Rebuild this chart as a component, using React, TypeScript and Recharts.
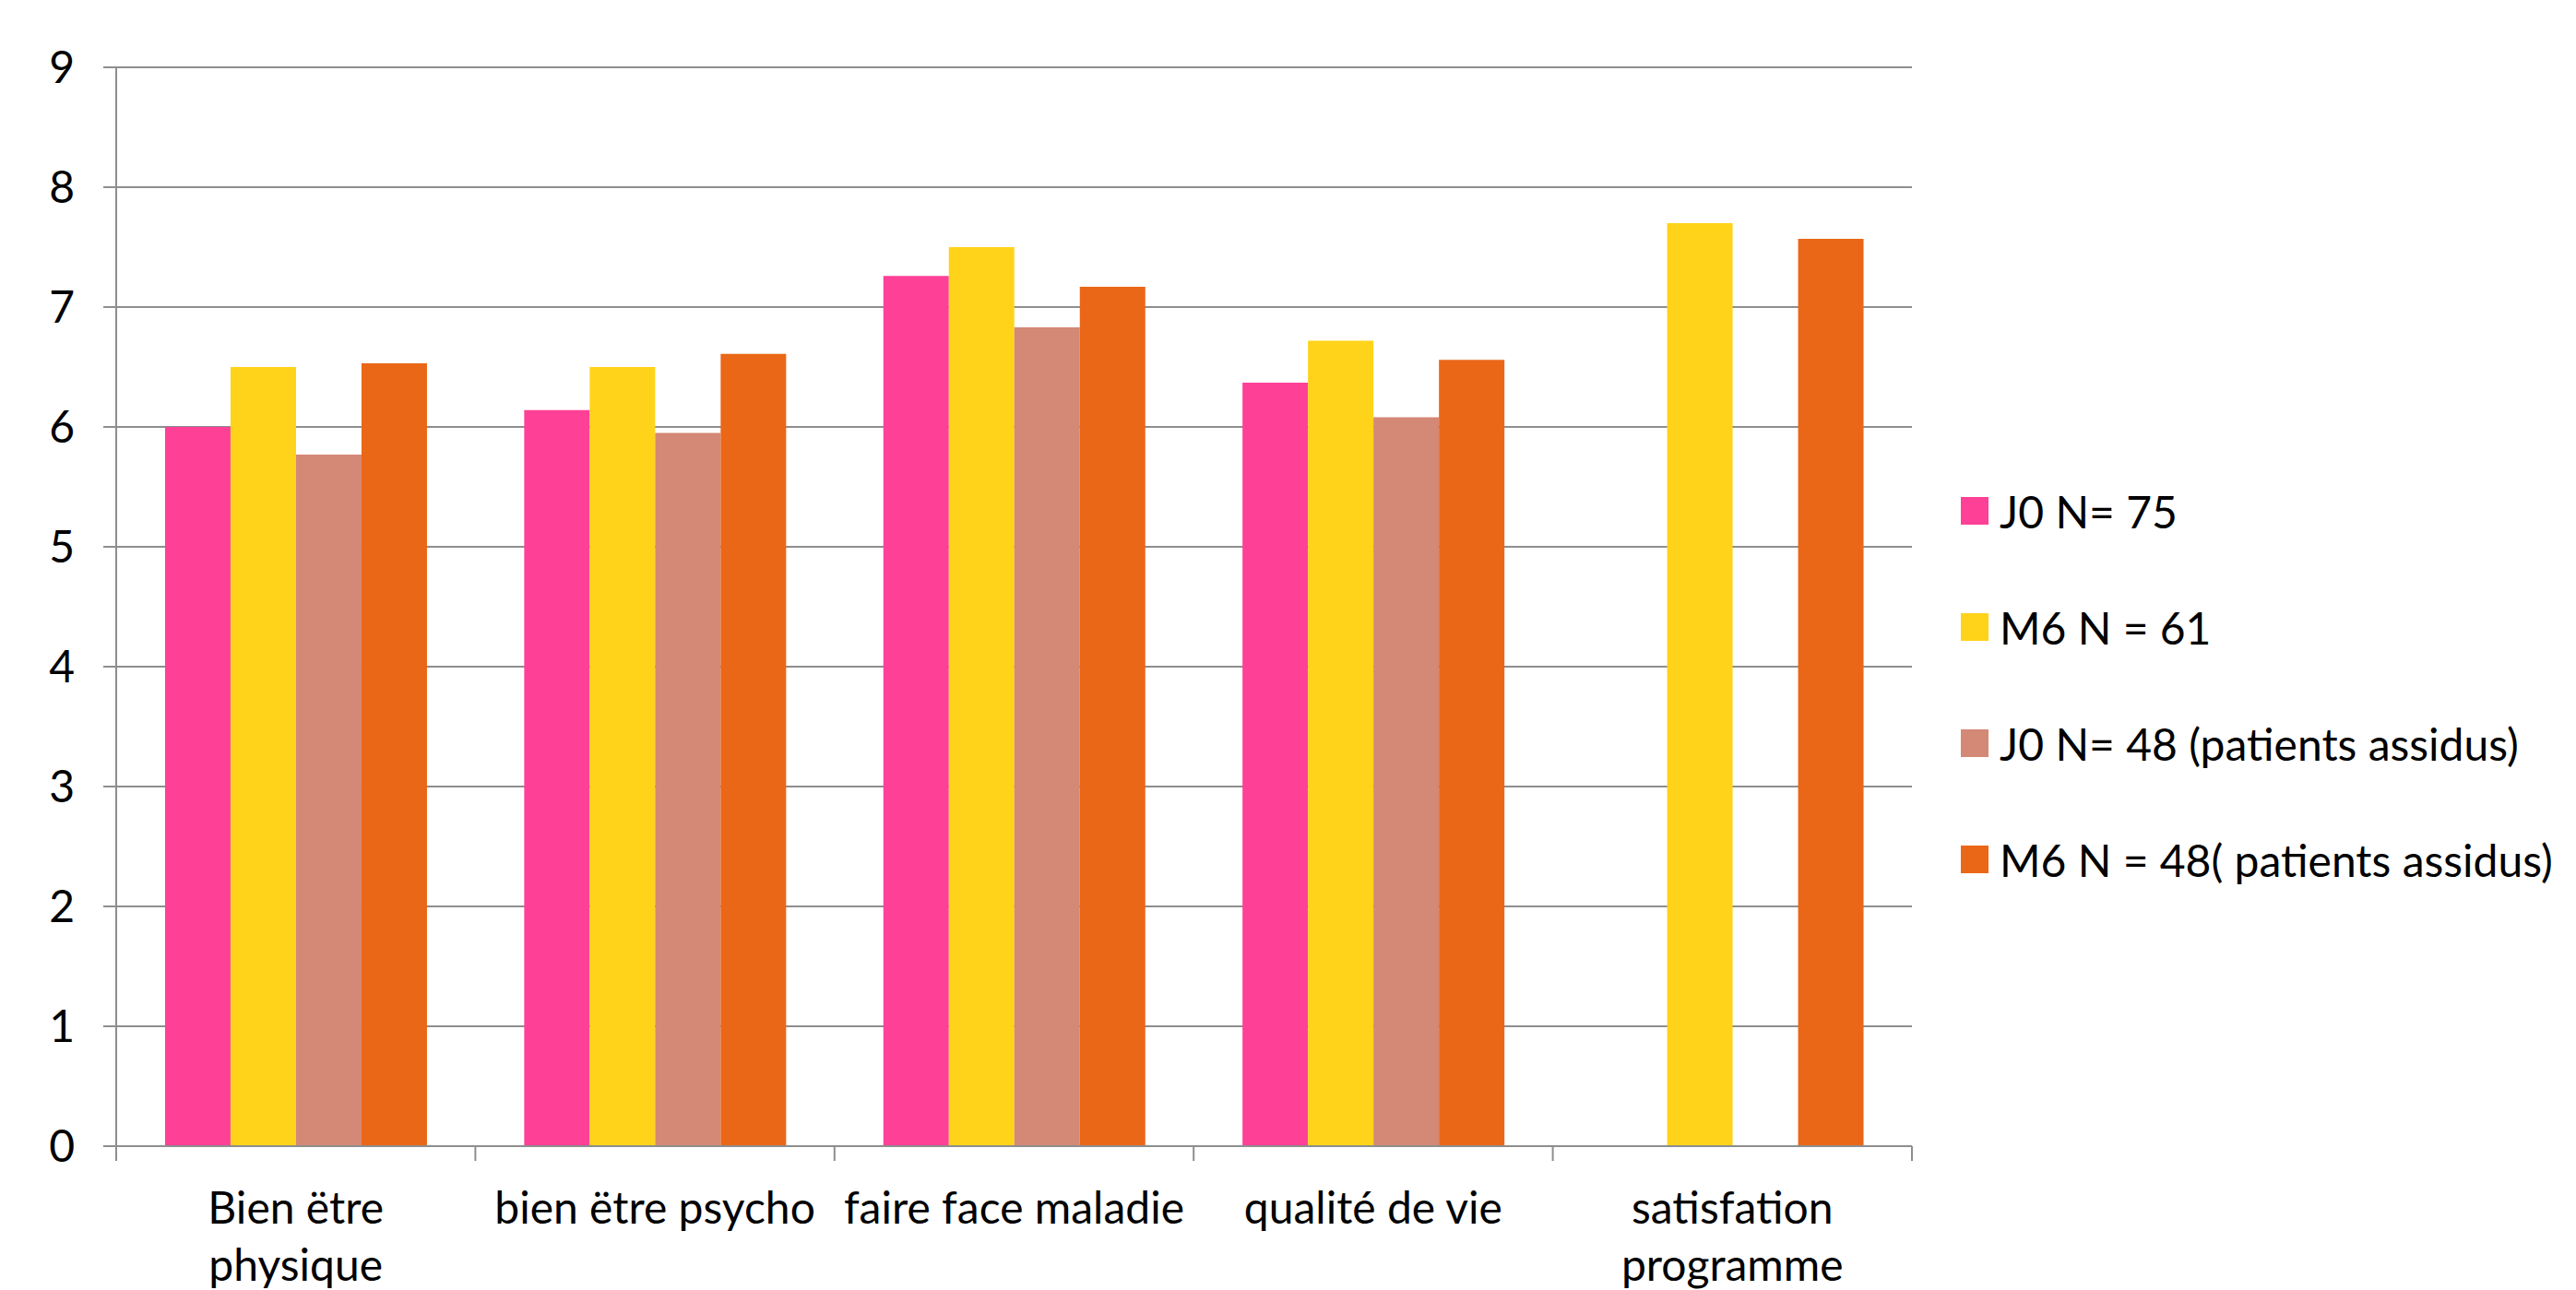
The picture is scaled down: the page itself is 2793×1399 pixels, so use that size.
import React from "react";
import { BarChart, Bar, XAxis, YAxis, CartesianGrid, Legend } from "recharts";

const categories = [
  "Bien ëtre physique",
  "bien ëtre psycho",
  "faire face maladie",
  "qualité de vie",
  "satisfation programme",
];
// how the category labels wrap under the axis
const categoryLines = [
  ["Bien ëtre", "physique"],
  ["bien ëtre psycho"],
  ["faire face maladie"],
  ["qualité de vie"],
  ["satisfation", "programme"],
];

const j0All = [6.0, 6.14, 7.26, 6.37, null];
const m6All = [6.5, 6.5, 7.5, 6.72, 7.7];
const j0Assidus = [5.77, 5.95, 6.83, 6.08, null];
const m6Assidus = [6.53, 6.61, 7.17, 6.56, 7.57];

const seriesNames = [
  "J0 N= 75",
  "M6 N = 61",
  "J0 N= 48 (patients assidus)",
  "M6 N = 48( patients assidus)",
];
const seriesColors = ["#ff4097", "#ffd319", "#d48876", "#ea6718"];

const yTicks = [0, 1, 2, 3, 4, 5, 6, 7, 8, 9];

const W = 2793;
const H = 1399;
const LEFT = 126;
const RIGHT = 720;
const FONT = "Lato, 'Open Sans', sans-serif";
const FS = 48;
const GRID = "#8e8e8e";

const data = categories.map((c, i) => ({
  name: c,
  j0All: j0All[i],
  m6All: m6All[i],
  j0Assidus: j0Assidus[i],
  m6Assidus: m6Assidus[i],
}));

const band = (W - LEFT - RIGHT) / categories.length;

function CategoryTick(props: any) {
  const { x, y, payload } = props;
  const idx = categories.indexOf(payload.value);
  const lines = categoryLines[idx] || [payload.value];
  const last = idx === categories.length - 1;
  return (
    <g>
      <line x1={x - band / 2} x2={x - band / 2} y1={y} y2={y + 16} stroke={GRID} strokeWidth={2} />
      {last && (
        <line x1={x + band / 2} x2={x + band / 2} y1={y} y2={y + 16} stroke={GRID} strokeWidth={2} />
      )}
      <text
        x={x}
        y={y + 84}
        textAnchor="middle"
        fontFamily={FONT}
        fontSize={FS}
        fill="#000"
      >
        {lines.map((l, i) => (
          <tspan key={i} x={x} dy={i === 0 ? 0 : 62}>
            {l}
          </tspan>
        ))}
      </text>
    </g>
  );
}

// legend drawn in series order (recharts would sort it by name)
function renderLegend() {
  return (
    <div style={{ fontFamily: FONT, fontSize: FS, color: "#000" }}>
      {seriesNames.map((name, i) => (
        <div key={i} style={{ display: "flex", alignItems: "center", height: 126, whiteSpace: "nowrap" }}>
          <span style={{ display: "inline-block", width: 30, height: 30, background: seriesColors[i], marginRight: 12 }} />
          <span>{name}</span>
        </div>
      ))}
    </div>
  );
}

export default function App() {
  return (
    <div style={{ position: "absolute", left: 0, top: 0, width: W, height: H, background: "#fff" }}>
      <BarChart
        width={W}
        height={H}
        data={data}
        margin={{ top: 73, right: RIGHT, left: 0, bottom: 0 }}
        barCategoryGap="13.6%"
        barGap={0}
      >
        <CartesianGrid vertical={false} stroke={GRID} strokeWidth={2} />
        <XAxis
          dataKey="name"
          height={H - 73 - 1170}
          interval={0}
          tickLine={false}
          tickSize={0}
          tickMargin={0}
          axisLine={{ stroke: GRID, strokeWidth: 2 }}
          tick={<CategoryTick />}
        />
        <YAxis
          width={LEFT}
          domain={[0, 9]}
          ticks={yTicks}
          interval={0}
          tickSize={14}
          tickMargin={31}
          axisLine={{ stroke: GRID, strokeWidth: 2 }}
          tickLine={{ stroke: GRID, strokeWidth: 2 }}
          tick={{ fontFamily: FONT, fontSize: FS, fill: "#000" }}
        />
        <Legend
          layout="horizontal"
          verticalAlign="middle"
          align="center"
          content={renderLegend}
          wrapperStyle={{ left: 2126, top: 491, width: 667 }}
        />
        <Bar dataKey="j0All" name={seriesNames[0]} fill={seriesColors[0]} isAnimationActive={false} />
        <Bar dataKey="m6All" name={seriesNames[1]} fill={seriesColors[1]} isAnimationActive={false} />
        <Bar dataKey="j0Assidus" name={seriesNames[2]} fill={seriesColors[2]} isAnimationActive={false} />
        <Bar dataKey="m6Assidus" name={seriesNames[3]} fill={seriesColors[3]} isAnimationActive={false} />
      </BarChart>
    </div>
  );
}
